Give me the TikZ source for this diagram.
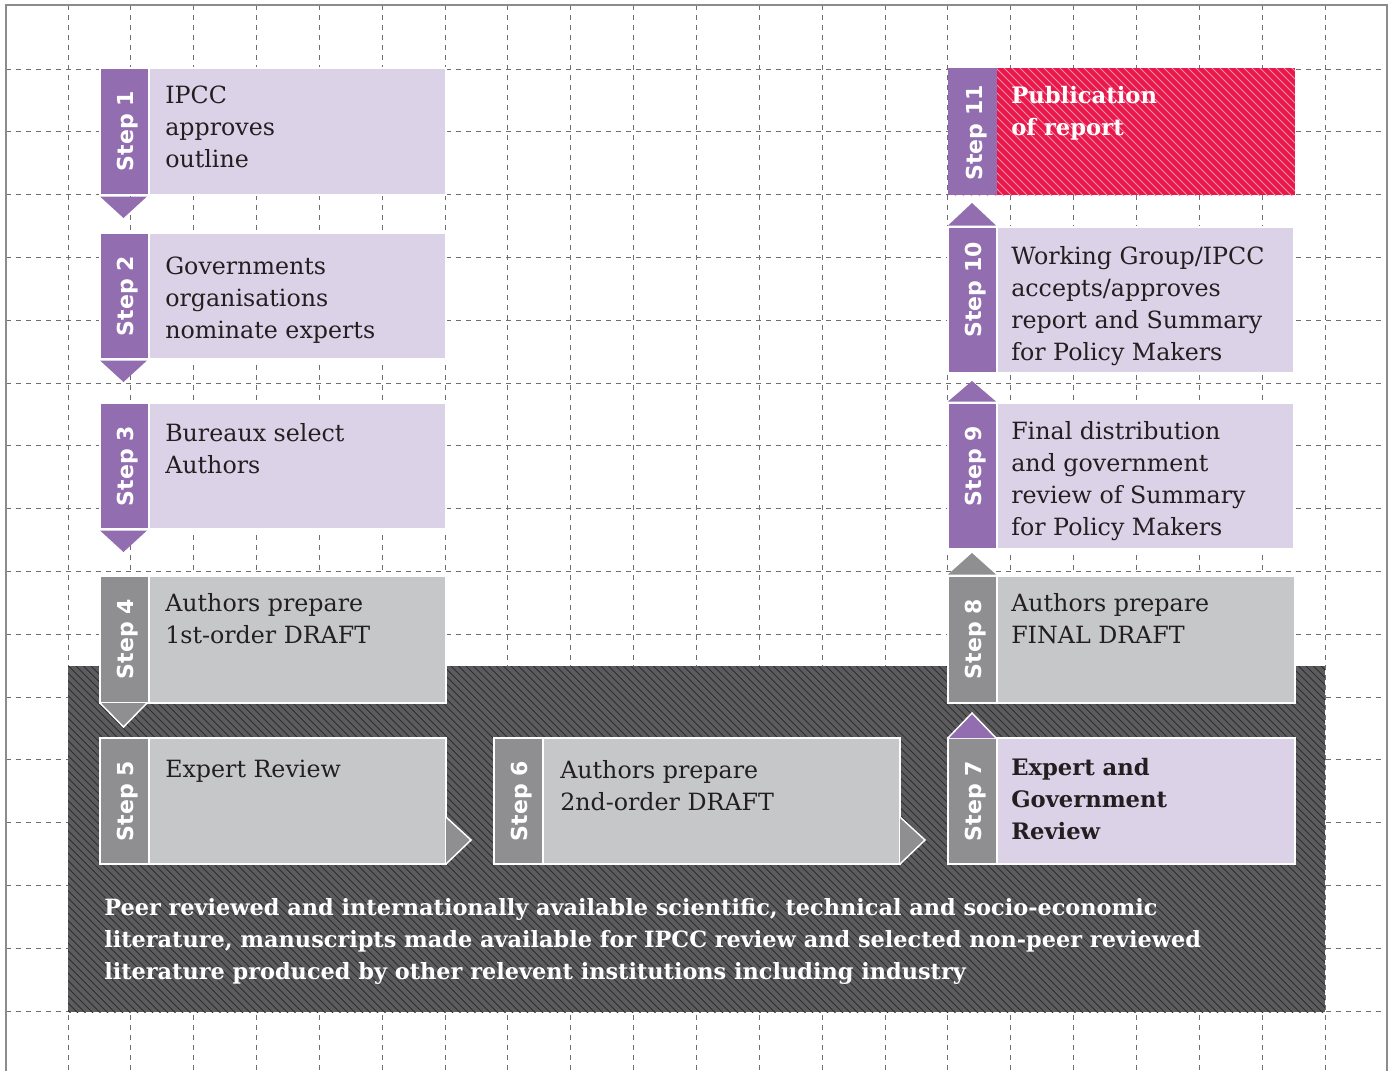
\documentclass[tikz,border=0pt]{standalone}
\usepackage{fontspec}
\setmainfont{DejaVu Serif}
\newfontfamily\tabfam{DejaVu Sans}
\usetikzlibrary{calc}
\definecolor{tabpurple}{HTML}{926EB0}
\definecolor{lightpurple}{HTML}{DBD2E8}
\definecolor{tabgray}{HTML}{8F8F91}
\definecolor{boxgray}{HTML}{C6C7C9}
\definecolor{darkbg}{HTML}{5C5C5E}
\definecolor{darkline}{HTML}{2E2E30}
\definecolor{redbox}{HTML}{E8184C}
\definecolor{redline}{HTML}{F48FA6}
\definecolor{gridcol}{HTML}{6F6F71}
\definecolor{framecol}{HTML}{8C8C8C}
\definecolor{txt}{HTML}{231F20}
\newcommand\lns[2][360pt]{\parbox[t]{#1}{\raggedright #2}}
\begin{document}
\begin{tikzpicture}[x=0.75pt,y=-0.75pt,
  box/.style={anchor=north west, inner sep=0, outer sep=0, draw=white, line width=1.1pt},
  bw/.style={minimum width=#1*0.75pt},
  bh/.style={minimum height=#1*0.75pt},
  bodyp/.style={box, fill=lightpurple},
  bodyg/.style={box, fill=boxgray},
  bodyr/.style={box, fill=redbox, draw=none},
  tabp/.style={box, fill=tabpurple, minimum width=49*0.75pt},
  tabg/.style={box, fill=tabgray, minimum width=49*0.75pt},
  steplabel/.style={rotate=90, anchor=base, inner sep=0, text=white, font=\fontsize{16.5pt}{18pt}\tabfam\bfseries},
  bodytext/.style={anchor=base west, inner sep=0, text=txt, font=\fontsize{17.8pt}{24pt}\selectfont},
  boldtext/.style={anchor=base west, inner sep=0, font=\fontsize{17pt}{24pt}\bfseries},
  gridline/.style={draw=gridcol, line width=0.75pt, dash pattern=on 3.75pt off 3.75pt},
  arrowp/.style={fill=tabpurple},
  arrowg/.style={fill=tabgray},
  arrowo/.style={draw=white, line width=1.1pt, line join=miter},
]
\useasboundingbox (0,0) rectangle (1389,1071);
% grid
\foreach \k in {0,...,20} \draw[gridline] ({68+\k*62.85},5) -- ({68+\k*62.85},1071);
\foreach \k in {0,...,15} \draw[gridline] (6,{69+\k*62.8}) -- (1387,{69+\k*62.8});
\draw[framecol, line width=1.1pt] (6,1071) -- (6,5) -- (1387,5) -- (1387,1071);

% literature region
\node[anchor=north west, inner sep=0, outer sep=0, fill=darkbg, bw=1257, bh=346] (lit) at (68,666) {};
\begin{scope}
\clip (lit.north west) rectangle (lit.south east);
\foreach \c in {-290,-282.5,...,1330} \draw[darkline, line width=0.7pt] (\c,660) -- ({\c+360},1020);
\end{scope}
\node[anchor=base west, inner sep=0, text=white, font=\fontsize{16.8pt}{32pt}\bfseries] (littxt) at (104,915)
  {\lns[1000pt]{Peer reviewed and internationally available scientific, technical and socio-economic\\[-8pt]literature, manuscripts made available for IPCC review and selected non-peer reviewed\\[-8pt]literature produced by other relevent institutions including industry}};

% Step 1
\node[bodyp, bw=346, bh=127] (b1) at (100,68) {};
\node[tabp, bh=127] (t1) at (100,68) {};
\node[steplabel] (l1) at ($(t1.north)+(8.5,63)$) {Step 1};
\node[bodytext] (x1) at ($(b1.north west)+(65,35)$) {\lns{IPCC\\approves\\outline}};
\fill[arrowp] ($(t1.south west)+(0,1.5)$) -- ($(t1.south west)+(47,1.5)$) -- ($(t1.south west)+(23.5,23)$) -- cycle;

% Step 2
\node[bodyp, bw=346, bh=126] (b2) at (100,233) {};
\node[tabp, bh=126] (t2) at (100,233) {};
\node[steplabel] (l2) at ($(t2.north)+(8.5,63)$) {Step 2};
\node[bodytext] (x2) at ($(b2.north west)+(65,41)$) {\lns{Governments\\organisations\\nominate experts}};
\fill[arrowp] ($(t2.south west)+(0,1.5)$) -- ($(t2.south west)+(47,1.5)$) -- ($(t2.south west)+(23.5,23)$) -- cycle;

% Step 3
\node[bodyp, bw=346, bh=126] (b3) at (100,403) {};
\node[tabp, bh=126] (t3) at (100,403) {};
\node[steplabel] (l3) at ($(t3.north)+(8.5,63)$) {Step 3};
\node[bodytext] (x3) at ($(b3.north west)+(65,38)$) {\lns{Bureaux select\\Authors}};
\fill[arrowp] ($(t3.south west)+(0,1.5)$) -- ($(t3.south west)+(47,1.5)$) -- ($(t3.south west)+(23.5,23)$) -- cycle;

% Step 4
\node[bodyg, bw=346, bh=127] (b4) at (100,576) {};
\node[tabg, bh=127] (t4) at (100,576) {};
\node[steplabel] (l4) at ($(t4.north)+(8.5,63)$) {Step 4};
\node[bodytext] (x4) at ($(b4.north west)+(65,35)$) {\lns{Authors prepare\\1st-order DRAFT}};
\filldraw[arrowg, arrowo] (t4.south west) -- ($(t4.south west)+(23.5,24)$) -- ($(t4.south west)+(47,0)$);

% Step 5
\node[bodyg, bw=346, bh=126] (b5) at (100,738) {};
\node[tabg, bh=126] (t5) at (100,738) {};
\node[steplabel] (l5) at ($(t5.north)+(8.5,63)$) {Step 5};
\node[bodytext] (x5) at ($(b5.north west)+(65,39)$) {\lns{Expert Review}};
\filldraw[arrowg, arrowo] ($(b5.south east)+(0,-47)$) -- ($(b5.south east)+(25,-24)$) -- (b5.south east);

% Step 6
\node[bodyg, bw=406, bh=126] (b6) at (494,738) {};
\node[tabg, bh=126] (t6) at (494,738) {};
\node[steplabel] (l6) at ($(t6.north)+(8.5,63)$) {Step 6};
\node[bodytext] (x6) at ($(b6.north west)+(66,40)$) {\lns{Authors prepare\\2nd-order DRAFT}};
\filldraw[arrowg, arrowo] ($(b6.south east)+(0,-47)$) -- ($(b6.south east)+(25,-24)$) -- (b6.south east);

% Step 7
\node[bodyp, bw=347, bh=126] (b7) at (948,738) {};
\node[tabg, bh=126] (t7) at (948,738) {};
\node[steplabel] (l7) at ($(t7.north)+(8.5,63)$) {Step 7};
\node[boldtext, text=txt] (x7) at ($(b7.north west)+(63,37)$) {\lns{Expert and\\Government\\Review}};
\filldraw[arrowp, arrowo] (t7.north west) -- ($(t7.north west)+(24,-25)$) -- ($(t7.north west)+(48,0)$);

% Step 8
\node[bodyg, bw=347, bh=127] (b8) at (948,576) {};
\node[tabg, bh=127] (t8) at (948,576) {};
\node[steplabel] (l8) at ($(t8.north)+(8.5,63)$) {Step 8};
\node[bodytext] (x8) at ($(b8.north west)+(63,35)$) {\lns{Authors prepare\\FINAL DRAFT}};
\fill[arrowg] ($(t8.north west)+(0,-1.5)$) -- ($(t8.north west)+(24,-23)$) -- ($(t8.north west)+(48,-1.5)$) -- cycle;

% Step 9
\node[bodyp, bw=346, bh=146] (b9) at (948,403) {};
\node[tabp, bh=146] (t9) at (948,403) {};
\node[steplabel] (l9) at ($(t9.north)+(8.5,63)$) {Step 9};
\node[bodytext] (x9) at ($(b9.north west)+(63,36)$) {\lns{Final distribution\\and government\\review of Summary\\for Policy Makers}};
\fill[arrowp] ($(t9.north west)+(0,-1.5)$) -- ($(t9.north west)+(24,-22)$) -- ($(t9.north west)+(48,-1.5)$) -- cycle;

% Step 10
\node[bodyp, bw=346, bh=146] (b10) at (948,227) {};
\node[tabp, bh=146] (t10) at (948,227) {};
\node[steplabel] (l10) at ($(t10.north)+(8.5,63)$) {Step 10};
\node[bodytext] (x10) at ($(b10.north west)+(63,37)$) {\lns{Working Group/IPCC\\accepts/approves\\report and Summary\\for Policy Makers}};
\fill[arrowp] ($(t10.north west)+(0,-1.5)$) -- ($(t10.north west)+(24,-24)$) -- ($(t10.north west)+(48,-1.5)$) -- cycle;

% Step 11
\node[bodyr, bw=347, bh=127] (b11) at (948,68) {};
\begin{scope}
\clip (b11.north west) rectangle (b11.south east);
\foreach \c in {700,708,...,1300} \draw[redline, line width=0.6pt] (\c,60) -- ({\c+140},200);
\end{scope}
\node[tabp, bh=127, draw=none] (t11) at (948,68) {};
\node[steplabel] (l11) at ($(t11.north)+(9.5,65)$) {Step 11};
\node[boldtext, text=white] (x11) at ($(b11.north west)+(63,35)$) {\lns{Publication\\of report}};
\end{tikzpicture}
\end{document}
